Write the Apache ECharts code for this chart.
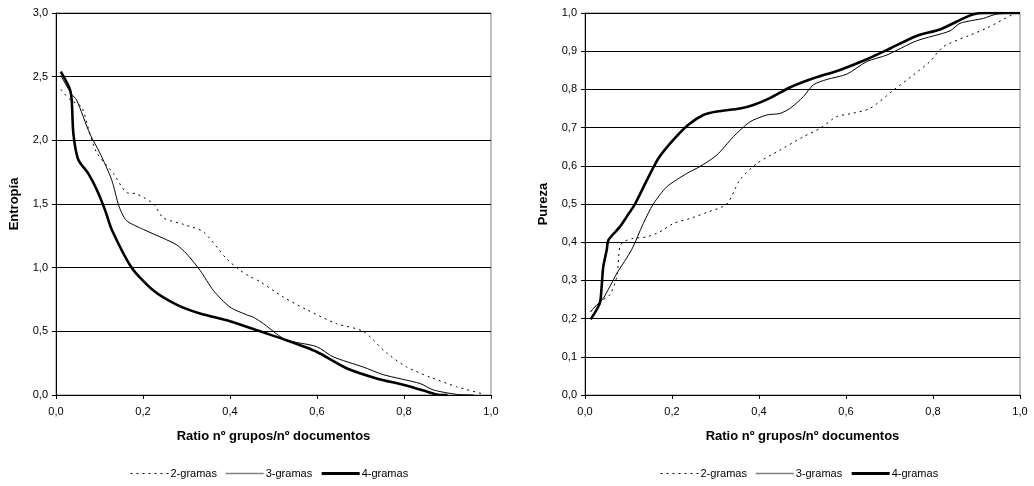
<!DOCTYPE html>
<html>
<head>
<meta charset="utf-8">
<script src="https://cdn.jsdelivr.net/npm/echarts@6/dist/echarts.min.js"></script>
<style>
  html, body { margin: 0; padding: 0; background: #fff; }
  #chart { width: 1034px; height: 486px; }
</style>
</head>
<body>
<div id="chart"></div>
<script>
// Ratio nº grupos / nº documentos vs. entropy and purity, for 2-, 3- and 4-gram representations
const seriesNames = ['2-gramas', '3-gramas', '4-gramas'];

// Entropía (left panel), [ratio, value]
const entropia2 = [
  [0.011, 2.40], [0.032, 2.32], [0.059, 2.26], [0.078, 2.05], [0.094, 1.90], [0.132, 1.74],
  [0.162, 1.59], [0.185, 1.58], [0.224, 1.50], [0.247, 1.39], [0.293, 1.34], [0.339, 1.28],
  [0.392, 1.07], [0.423, 0.98], [0.446, 0.93], [0.469, 0.89], [0.522, 0.77], [0.576, 0.67],
  [0.645, 0.56], [0.706, 0.50], [0.760, 0.33], [0.806, 0.22], [0.860, 0.14], [0.921, 0.065],
  [0.979, 0.01], [0.985, 0.0]
];
const entropia3 = [
  [0.011, 2.51], [0.036, 2.36], [0.047, 2.32], [0.078, 2.05], [0.101, 1.90], [0.128, 1.69],
  [0.145, 1.48], [0.162, 1.37], [0.201, 1.30], [0.247, 1.23], [0.277, 1.18], [0.300, 1.11],
  [0.331, 0.98], [0.362, 0.82], [0.400, 0.69], [0.438, 0.63], [0.454, 0.61], [0.477, 0.56],
  [0.507, 0.48], [0.530, 0.43], [0.599, 0.38], [0.637, 0.30], [0.706, 0.22], [0.752, 0.16],
  [0.837, 0.09], [0.867, 0.04], [0.921, 0.005], [0.96, 0.0]
];
const entropia4 = [
  [0.011, 2.54], [0.031, 2.41], [0.036, 2.32], [0.040, 2.05], [0.051, 1.85], [0.074, 1.74],
  [0.094, 1.61], [0.113, 1.45], [0.128, 1.30], [0.174, 1.00], [0.224, 0.82], [0.277, 0.71],
  [0.331, 0.64], [0.400, 0.58], [0.469, 0.50], [0.530, 0.43], [0.599, 0.34], [0.668, 0.21],
  [0.737, 0.13], [0.798, 0.08], [0.845, 0.035], [0.883, 0.0], [0.90, 0.0]
];

// Pureza (right panel), [ratio, value]
const pureza2 = [
  [0.013, 0.218], [0.034, 0.244], [0.057, 0.262], [0.073, 0.31], [0.080, 0.388], [0.088, 0.401],
  [0.111, 0.41], [0.142, 0.414], [0.172, 0.427], [0.203, 0.449], [0.241, 0.462], [0.280, 0.478],
  [0.326, 0.50], [0.356, 0.563], [0.395, 0.606], [0.448, 0.641], [0.502, 0.676], [0.540, 0.698],
  [0.579, 0.729], [0.609, 0.736], [0.655, 0.75], [0.709, 0.798], [0.755, 0.838], [0.793, 0.873],
  [0.824, 0.912], [0.885, 0.942], [0.923, 0.96], [0.985, 0.997], [1.0, 1.0]
];
const pureza3 = [
  [0.013, 0.218], [0.023, 0.231], [0.042, 0.253], [0.073, 0.318], [0.107, 0.38], [0.134, 0.449],
  [0.157, 0.50], [0.188, 0.545], [0.234, 0.58], [0.264, 0.598], [0.303, 0.628], [0.341, 0.676],
  [0.379, 0.715], [0.418, 0.733], [0.448, 0.737], [0.471, 0.75], [0.502, 0.781], [0.525, 0.812],
  [0.556, 0.826], [0.602, 0.84], [0.648, 0.873], [0.694, 0.89], [0.762, 0.927], [0.839, 0.953],
  [0.862, 0.973], [0.916, 0.986], [0.946, 0.997], [1.0, 1.0]
];
const pureza4 = [
  [0.013, 0.198], [0.034, 0.24], [0.038, 0.28], [0.042, 0.336], [0.050, 0.38], [0.054, 0.406],
  [0.080, 0.44], [0.096, 0.467], [0.115, 0.50], [0.146, 0.571], [0.169, 0.62], [0.203, 0.668],
  [0.237, 0.707], [0.272, 0.733], [0.303, 0.742], [0.356, 0.75], [0.387, 0.759], [0.425, 0.777],
  [0.471, 0.805], [0.525, 0.829], [0.586, 0.851], [0.648, 0.879], [0.694, 0.903], [0.762, 0.94],
  [0.816, 0.957], [0.870, 0.986], [0.893, 0.997], [0.92, 1.0], [1.0, 1.0]
];

const FONT = '"Liberation Sans", Arial, sans-serif';
const comma = (d) => (v) => v.toFixed(d).replace('.', ',');

const lineStyles = [
  { width: 1, type: [2, 4], color: '#000' },
  { width: 1, type: 'solid', color: '#000' },
  { width: 2.6, type: 'solid', color: '#000' }
];
// legend swatches: dotted, thin grey, thick black
const legendLines = [
  { width: 1, type: [2, 4], color: '#000' },
  { width: 1.5, type: 'solid', color: '#808080' },
  { width: 3, type: 'solid', color: '#000' }
];

function xAxis(gridIndex) {
  return {
    type: 'value', gridIndex, min: 0, max: 1, interval: 0.2,
    name: 'Ratio nº grupos/nº documentos', nameLocation: 'middle', nameGap: 35,
    nameTextStyle: { fontFamily: FONT, fontSize: 13, fontWeight: 'bold', color: '#000' },
    axisLine: { lineStyle: { color: '#000', width: 1 } },
    axisTick: { show: true, length: 4, lineStyle: { color: '#000' } },
    axisLabel: { formatter: comma(1), fontFamily: FONT, fontSize: 11, color: '#000', margin: 11 },
    splitLine: { show: false }
  };
}
function yAxis(gridIndex, name, max, interval) {
  return {
    type: 'value', gridIndex, min: 0, max, interval,
    name, nameLocation: 'middle', nameGap: 35, nameRotate: 90,
    nameTextStyle: { fontFamily: FONT, fontSize: 13, fontWeight: 'bold', color: '#000' },
    axisLine: { show: true, lineStyle: { color: '#000', width: 1 } },
    axisTick: { show: true, length: 4, lineStyle: { color: '#000' } },
    axisLabel: { formatter: comma(1), fontFamily: FONT, fontSize: 11, color: '#000', margin: 8 },
    splitLine: { show: true, lineStyle: { color: '#000', width: 1 } }
  };
}
function line(name, data, idx, gridIdx) {
  return {
    name, type: 'line', data, xAxisIndex: gridIdx, yAxisIndex: gridIdx,
    showSymbol: false, symbol: 'none', smooth: 0.25,
    lineStyle: lineStyles[idx], itemStyle: { color: '#000' },
    animation: false, z: 3 + idx
  };
}
function legend(left) {
  return {
    data: seriesNames.map((name, i) => ({
      name,
      lineStyle: legendLines[i],
      itemStyle: { color: 'transparent', borderWidth: 0, opacity: 0 }
    })),
    left, top: 463, orient: 'horizontal',
    itemWidth: 38, itemHeight: 10, itemGap: 8, selectedMode: false,
    textStyle: { fontFamily: FONT, fontSize: 11, color: '#000', padding: [0, 0, 0, -3] }
  };
}

const chart = echarts.init(document.getElementById('chart'), null, { renderer: 'canvas' });
chart.setOption({
  backgroundColor: '#fff',
  animation: false,
  grid: [
    { left: 56, right: 543, top: 13, bottom: 91, show: true, borderColor: '#808080', borderWidth: 1, backgroundColor: 'transparent' },
    { left: 585, right: 14, top: 13, bottom: 91, show: true, borderColor: '#808080', borderWidth: 1, backgroundColor: 'transparent' }
  ],
  xAxis: [xAxis(0), xAxis(1)],
  yAxis: [yAxis(0, 'Entropía', 3, 0.5), yAxis(1, 'Pureza', 1, 0.1)],
  legend: [legend(125), legend(655)],
  series: [
    line(seriesNames[0], entropia2, 0, 0),
    line(seriesNames[1], entropia3, 1, 0),
    line(seriesNames[2], entropia4, 2, 0),
    line(seriesNames[0], pureza2, 0, 1),
    line(seriesNames[1], pureza3, 1, 1),
    line(seriesNames[2], pureza4, 2, 1)
  ]
});
</script>
</body>
</html>
